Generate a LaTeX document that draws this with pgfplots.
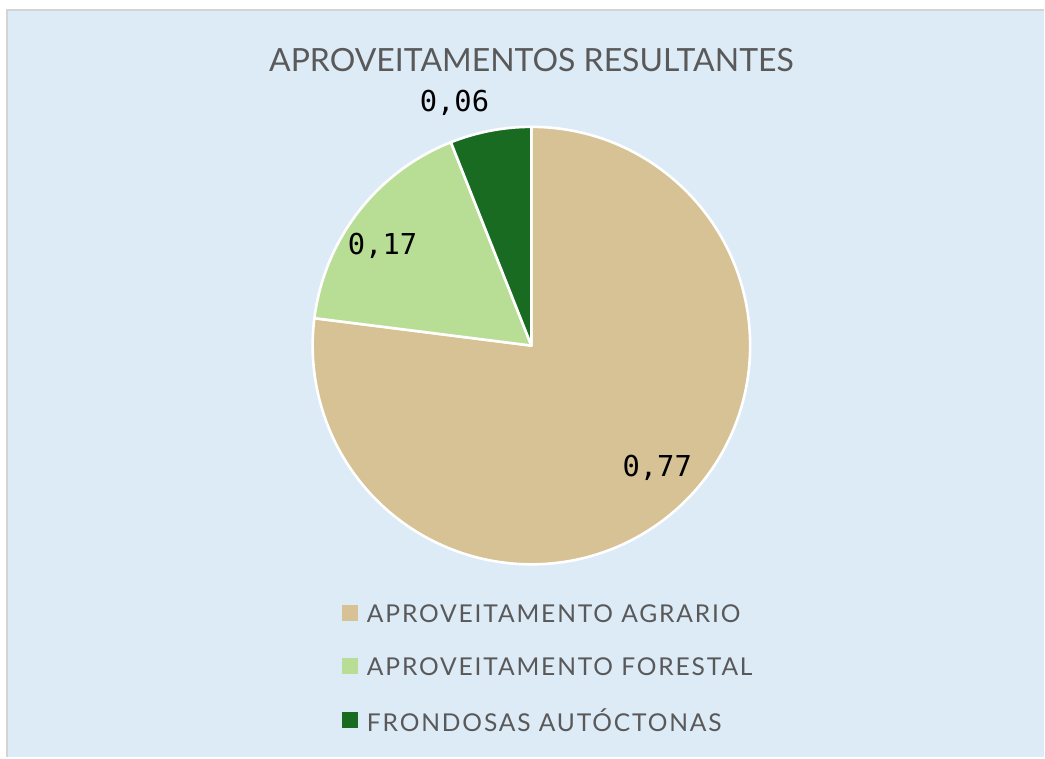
\documentclass[border=0pt]{standalone}
\usepackage{pgfplots}
\pgfplotsset{compat=1.18}
\usepackage{pgfplotstable}
\usepackage{fontspec}
\setmainfont{Lato}
\newfontfamily\labfont{DejaVu Sans Mono}
\newfontfamily\legfont[LetterSpace=7.5]{Lato}

\definecolor{bgblue}{HTML}{DDEBF7}
\definecolor{framegray}{HTML}{D4D4D4}
\definecolor{txt}{HTML}{595959}
\definecolor{cagr}{HTML}{D6C294}
\definecolor{cfor}{HTML}{B8DE96}
\definecolor{cfro}{HTML}{1A6B22}

\pgfplotstableread{
label value
agrario 0.77
forestal 0.17
frondosas 0.06
}\piedata

\begin{document}
\begin{tikzpicture}
\begin{axis}[
    x=0.5pt, y=0.5pt,
    xmin=0, xmax=1045, ymin=0, ymax=758,
    hide axis, clip=false,
]
% panel
\fill[white] (axis cs:0,0) rectangle (axis cs:1045,758);
\fill[bgblue] (axis cs:7,0) rectangle (axis cs:1045,748);
\draw[framegray, line width=1.2pt] (axis cs:7,0) -- (axis cs:7,748) -- (axis cs:1045,748);

% pie slices, clockwise from 12 o'clock
\pgfplotsextra{
  \gdef\angstart{90}
  \foreach \i/\col in {0/cagr,1/cfor,2/cfro} {
    \pgfplotstablegetelem{\i}{value}\of\piedata
    \pgfmathsetmacro{\angend}{\angstart-360*\pgfplotsretval}
    \fill[\col, draw=white, line width=1.3pt, line join=round]
      (axis cs:532,412) -- ++(\angstart:109.5pt)
      arc[start angle=\angstart, end angle=\angend, radius=109.5pt] -- cycle;
    \xdef\angstart{\angend}
  }
}

% title and data labels
\node[txt, font=\fontsize{16}{18}\selectfont] at (axis cs:532,698) {APROVEITAMENTOS RESULTANTES};
\node[font=\labfont\fontsize{14.4}{16}\selectfont] at (axis cs:658,290) {0,77};
\node[font=\labfont\fontsize{14.4}{16}\selectfont] at (axis cs:383,512) {0,17};
\node[font=\labfont\fontsize{14.4}{16}\selectfont] at (axis cs:455,655) {0,06};

% legend
\pgfplotsextra{
  \foreach \yy/\col/\lab in {144/cagr/APROVEITAMENTO AGRARIO, 91/cfor/APROVEITAMENTO FORESTAL, 37/cfro/FRONDOSAS AUTÓCTONAS} {
    \fill[\col] (axis cs:342,\yy-8) rectangle (axis cs:358,\yy+8);
    \node[txt, anchor=west, inner sep=0pt, font=\legfont\fontsize{12.3}{14}\selectfont] at (axis cs:367,\yy) {\lab};
  }
}
\end{axis}
\end{tikzpicture}
\end{document}
